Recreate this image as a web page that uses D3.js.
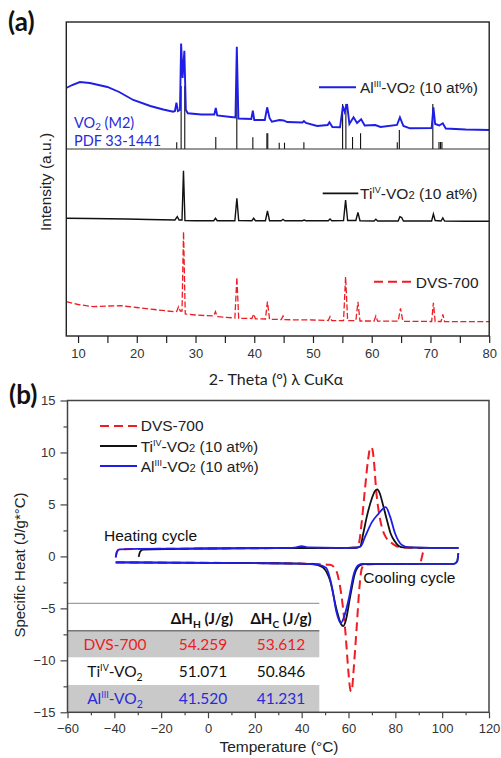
<!DOCTYPE html>
<html><head><meta charset="utf-8">
<script src="https://cdn.jsdelivr.net/npm/d3@7"></script>
<style>body{margin:0;background:#fff;} svg{display:block;}</style>
</head><body>
<svg id="c" width="501" height="758"></svg>
<script>
// ---------- Panel (a) XRD data : [2theta, intensity (a.u.)] ----------
const xrdTicks = [10, 20, 30, 40, 50, 60, 70, 80];
const xrdMinorTicks = [15, 25, 35, 45, 55, 65, 75];
const alXRD = [[8.0,248],[9.0,251],[10.3,254],[12.0,253],[15.0,249],[17.0,244],[19.4,236],[22.3,230],[24.5,226.5],[26.2,224.3],[26.5,225],[26.75,233.3],[27.0,225],[27.35,226],[27.55,292.5],[27.8,258],[28.1,285.3],[28.35,226],[28.7,222.7],[31.0,221.5],[33.2,221.5],[33.45,228],[33.7,220.5],[36.0,219],[36.8,218.5],[37.03,289.3],[37.3,217.5],[39.5,217],[39.76,225.3],[40.0,216],[41.8,216],[42.2,228.7],[42.6,218],[43.0,214.3],[44.3,216],[45.0,215.5],[45.6,214],[48.2,213.5],[48.45,215],[48.8,213],[50.7,210],[52.5,211],[52.8,213.7],[53.3,209],[54.6,208.7],[55.1,230],[55.4,224],[55.8,232],[56.2,212],[56.9,218.7],[57.5,213],[58.2,216.7],[58.8,210.5],[60.6,211],[61.5,209],[64.3,211],[64.8,218.7],[65.4,210],[66.5,207.7],[70.2,208],[70.5,228.7],[70.8,212],[71.5,210.5],[72.1,212.7],[72.6,207.5],[76.0,206.5],[80.0,206]];
const tiXRD = [[8,117.7],[12,117.5],[18.3,117],[22,116.5],[26.5,116],[26.9,119.3],[27.2,116],[27.7,116],[27.95,165.3],[28.2,115.5],[30,115.3],[33.1,115.3],[33.4,117.7],[33.7,115.3],[36.7,115.3],[37.04,137.7],[37.35,115.5],[39.6,115.3],[39.9,117.7],[40.2,115.3],[41.9,115.3],[42.25,125],[42.6,115.3],[44.6,115.3],[44.9,116.7],[45.2,115.3],[48.2,115.3],[48.5,116],[48.8,115.3],[52.6,115.3],[52.9,117],[53.2,115.3],[55.2,115.5],[55.55,136],[55.9,115.5],[57.3,115.5],[57.65,123.7],[58.0,115.3],[60.4,115],[60.7,116.7],[61.0,115],[64.5,115],[64.8,119.3],[65.1,118.5],[65.4,115],[70.2,115],[70.5,122],[70.8,115.5],[71.8,115],[72.1,118],[72.4,115],[76,114.8],[80,114.7]];
const dvsXRD = [[8,34.3],[10,31.5],[12.6,29.3],[15,30],[17.2,30.3],[20,28.5],[23,26.5],[26.3,24.3],[26.8,24.5],[27.1,29.3],[27.4,25],[27.7,25],[27.96,104.3],[28.25,22],[30,21],[33.1,20],[33.4,24.3],[33.7,19.3],[36.7,18],[37.04,58.7],[37.35,17.7],[39.6,17.5],[39.9,22],[40.2,17.2],[41.9,17],[42.25,34.3],[42.6,16.7],[44.6,16.5],[44.9,20],[45.2,16.3],[50,16],[52.6,15.5],[52.9,19.3],[53.2,15.3],[55.2,15.3],[55.55,59.3],[55.9,15.3],[57.3,15.3],[57.65,34.3],[58.0,15],[60.4,15],[60.7,20],[61.0,14.8],[64.5,14.8],[64.9,27.7],[65.3,14.7],[70.2,14.5],[70.5,33.3],[70.8,14.5],[71.8,14.5],[72.1,21.7],[72.4,14.4],[76,14.3],[80,14.3]];
// PDF 33-1441 reference sticks: [2theta, relative height]
const pdfBase = 187;
const pdfSticks = [[26.8,6.7],[27.55,63],[28.17,63],[33.45,12],[37.03,62],[39.76,11.7],[42.15,15.7],[42.3,15.7],[44.25,6.3],[45.15,6.3],[48.45,6.7],[55.04,45],[55.6,45],[56.73,12],[58.1,15.7],[64.35,6.7],[64.7,19],[70.4,45],[71.45,7],[71.7,7],[71.95,7]];

// ---------- Panel (b) DSC data : [T (°C), specific heat (J/g*°C)] ----------
const dscTicks = [-60, -40, -20, 0, 20, 40, 60, 80, 100, 120];
const dscMinorTicks = [-50, -30, -10, 10, 30, 50, 70, 90, 110];
const cpTicks = [-15, -10, -5, 0, 5, 10, 15];
const cpMinorTicks = [-12.5, -7.5, -2.5, 2.5, 7.5, 12.5];
const dvsHeat = [[-39.4,-0.1],[-38.9,0.45],[-37.8,0.68],[0,0.76],[30,0.8],[60,0.82],[63.5,0.85],[64.5,1.3],[65.5,3.0],[67,6.4],[68.3,9.2],[69.1,10.3],[69.7,10.5],[70.3,10.2],[71.0,8.8],[71.8,6.4],[73,4.2],[74.2,2.85],[75.8,1.9],[77.8,1.4],[80,1.05],[82,0.9],[88,0.82],[92,0.8]];
const dvsCool = [[-39.4,-0.58],[0,-0.62],[30,-0.66],[45,-0.72],[52,-0.8],[54.3,-1.15],[56.4,-2.9],[58.5,-6.8],[60,-11.2],[60.6,-12.6],[61.1,-13.0],[61.6,-12.6],[62.1,-11.2],[63.5,-6.8],[64.7,-2.9],[65.7,-1.15],[67,-0.78],[75,-0.72],[90.4,-0.72],[91.2,-0.2],[92,0.6]];
const tiHeat = [[-29.6,-0.05],[-29.0,0.45],[-27.8,0.65],[0,0.76],[30,0.8],[55,0.82],[63,0.83],[65,0.95],[66.3,2.2],[67.8,3.8],[70,5.6],[71.3,6.3],[72.3,6.45],[73.3,6.1],[74.8,4.9],[76.4,3.5],[78,2.2],[79.9,1.4],[81.5,1.0],[83.4,0.86],[95,0.82],[107,0.82]];
const tiCool = [[-39.4,-0.58],[0,-0.62],[30,-0.66],[44,-0.72],[47,-0.85],[49.3,-1.1],[52.1,-2.3],[55,-5.2],[56.8,-6.5],[57.8,-6.7],[58.8,-6.2],[60.7,-3.9],[62.8,-1.6],[65,-0.84],[67,-0.74],[90,-0.72],[105,-0.72],[106.4,-0.5],[106.9,0.3]];
const alHeat = [[-39.4,-0.1],[-38.9,0.45],[-37.8,0.68],[-30,0.72],[0,0.76],[30,0.8],[37,0.84],[40,0.98],[43,0.86],[55,0.82],[63,0.83],[65.2,0.95],[67.1,1.9],[70,3.3],[72.8,4.1],[75.9,4.75],[77.8,3.8],[79.9,2.2],[82.8,1.1],[86,0.86],[95,0.82],[107,0.82]];
const alCool = [[-39.4,-0.58],[-20,-0.6],[0,-0.62],[20,-0.65],[40,-0.7],[47,-0.8],[50.4,-1.1],[52.9,-2.9],[54.8,-5.3],[56.7,-6.4],[58.4,-5.6],[60,-4.2],[62.4,-1.6],[64.2,-0.85],[66,-0.72],[90,-0.72],[105,-0.72],[106.4,-0.5],[106.9,0.3]];
// enthalpy table
const tableSamples = ["DVS-700", "Ti", "Al"];
const dHH = [54.259, 51.071, 41.520];
const dHC = [53.612, 50.846, 41.231];

// ---------- styles ----------
const RED = "#ee1c24", BLUE = "#1e1ee6", BLACK = "#111";
const SANS = "'Liberation Sans', Arial, sans-serif";
const HUM = "Lato, 'Open Sans', sans-serif";
const svg = d3.select("#c");

function rich(g, x, y, parts, fs, opts = {}) {
  const t = g.append("text").attr("x", x).attr("y", y)
    .attr("font-family", opts.font || SANS).attr("font-size", fs)
    .attr("fill", opts.fill || BLACK).attr("font-weight", opts.weight || "normal")
    .attr("text-anchor", opts.anchor || "start");
  let shift = 0;
  parts.forEach(p => {
    const s = t.append("tspan").text(p.t);
    let target = 0, size = fs;
    if (p.sup) { target = -fs * 0.38; size = fs * 0.58; }
    else if (p.sub) { target = fs * (opts.subShift || 0.28); size = fs * 0.68; }
    else if (p.small) { target = 0; size = fs * 0.72; }
    s.attr("font-size", size).attr("dy", target - shift);
    shift = target;
  });
  return t;
}

// ================= Panel (a) =================
const xA = d3.scaleLinear().domain([8, 80]).range([66.3, 489.2]);
const yA = d3.scaleLinear().domain([0, 314]).range([336, 22]);
const gA = svg.append("g");

// sticks
gA.selectAll("line.stick").data(pdfSticks).enter().append("line")
  .attr("x1", d => xA(d[0])).attr("x2", d => xA(d[0]))
  .attr("y1", yA(pdfBase)).attr("y2", d => yA(pdfBase + d[1]))
  .attr("stroke", "#111").attr("stroke-width", 1.1);

const lineA = d3.line().x(d => xA(d[0])).y(d => yA(d[1]));
gA.append("path").attr("d", lineA(dvsXRD)).attr("fill", "none")
  .attr("stroke", RED).attr("stroke-width", 1.3).attr("stroke-dasharray", "6,2.5");
gA.append("path").attr("d", lineA(tiXRD)).attr("fill", "none")
  .attr("stroke", BLACK).attr("stroke-width", 1.4);
gA.append("path").attr("d", lineA(alXRD)).attr("fill", "none")
  .attr("stroke", BLUE).attr("stroke-width", 1.9);

// separator + frame
gA.append("line").attr("x1", xA(8)).attr("x2", xA(80)).attr("y1", yA(pdfBase)).attr("y2", yA(pdfBase))
  .attr("stroke", "#333").attr("stroke-width", 1.2);
gA.append("rect").attr("x", xA(8)).attr("y", yA(314)).attr("width", xA(80) - xA(8)).attr("height", yA(0) - yA(314))
  .attr("fill", "none").attr("stroke", "#222").attr("stroke-width", 1.4);

// x axis
const axA = gA.append("g").attr("transform", `translate(0,${yA(0)})`)
  .call(d3.axisBottom(xA).tickValues(xrdTicks.concat(xrdMinorTicks)).tickSize(7)
    .tickFormat(d => xrdTicks.includes(d) ? d : ""));
axA.select(".domain").remove();
axA.selectAll("line").attr("stroke", "#222").attr("stroke-width", 1.2);
axA.selectAll("text").attr("font-family", SANS).attr("font-size", 13).attr("fill", "#333").attr("dy", "0.95em");

gA.append("text").attr("x", 276).attr("y", 385).attr("text-anchor", "middle")
  .attr("font-family", HUM).attr("font-size", 16).attr("fill", "#222").text("2- Theta (\u00b0) \u03bb CuK\u03b1");
gA.append("text").attr("transform", "rotate(-90)").attr("x", -182).attr("y", 51)
  .attr("text-anchor", "middle").attr("font-family", SANS).attr("font-size", 15.5).attr("fill", "#222")
  .text("Intensity (a.u.)");
gA.append("text").attr("x", 8).attr("y", 31).attr("font-family", HUM).attr("font-weight", "bold")
  .attr("font-size", 26).attr("fill", "#111").text("(a)");

// PDF label
rich(gA, 74, 127.5, [{t: "VO"}, {t: "2", sub: true}, {t: " (M2)"}], 14.5, {font: HUM, fill: "#2a2ad8", subShift: 0.16});
rich(gA, 74, 145.5, [{t: "PDF 33-1441"}], 14.5, {font: HUM, fill: "#2a2ad8"});

// legends (a)
gA.append("line").attr("x1", 319).attr("x2", 356).attr("y1", 87.3).attr("y2", 87.3).attr("stroke", BLUE).attr("stroke-width", 2);
rich(gA, 360, 93, [{t: "Al"}, {t: "III", sup: true}, {t: "-VO"}, {t: "2", small: true}, {t: " (10 at%)"}], 15.5, {fill: "#222"});
gA.append("line").attr("x1", 322.7).attr("x2", 358.3).attr("y1", 193.3).attr("y2", 193.3).attr("stroke", BLACK).attr("stroke-width", 1.8);
rich(gA, 360, 199.3, [{t: "Ti"}, {t: "IV", sup: true}, {t: "-VO"}, {t: "2", small: true}, {t: " (10 at%)"}], 15.5, {fill: "#222"});
gA.append("line").attr("x1", 374).attr("x2", 412).attr("y1", 281.7).attr("y2", 281.7).attr("stroke", RED).attr("stroke-width", 2).attr("stroke-dasharray", "9,5");
rich(gA, 415.7, 287.7, [{t: "DVS-700"}], 15.5, {fill: "#222"});

// ================= Panel (b) =================
const xB = d3.scaleLinear().domain([-60, 120]).range([67.5, 489]);
const yB = d3.scaleLinear().domain([-15, 15]).range([712.3, 400.5]);
const gB = svg.append("g");

// table
const rowTop = [630.7, 657.3, 685], rowBot = [657.3, 685, yB(-15)];
const tableX1 = 319.3;
[0, 2].forEach(i => gB.append("rect").attr("x", xB(-60)).attr("y", rowTop[i]).attr("width", tableX1 - xB(-60))
  .attr("height", rowBot[i] - rowTop[i]).attr("fill", "#c9c9c9"));
gB.append("line").attr("x1", xB(-60)).attr("x2", tableX1).attr("y1", 603.3).attr("y2", 603.3).attr("stroke", "#888").attr("stroke-width", 1);
gB.append("line").attr("x1", xB(-60)).attr("x2", tableX1).attr("y1", 630.7).attr("y2", 630.7).attr("stroke", "#777").attr("stroke-width", 1.5);
rich(gB, 202, 624, [{t: "\u0394H"}, {t: "H", sub: true}, {t: " (J/g)"}], 15, {font: HUM, weight: "bold", anchor: "middle", fill: "#111"});
rich(gB, 281, 624, [{t: "\u0394H"}, {t: "C", sub: true}, {t: " (J/g)"}], 15, {font: HUM, weight: "bold", anchor: "middle", fill: "#111"});
const rowColors = [RED, "#111", "#2a2ad8"];
const rowBase = [650, 676.7, 704];
tableSamples.forEach((s, i) => {
  const parts = s === "DVS-700" ? [{t: "DVS-700"}] :
    [{t: s}, {t: s === "Ti" ? "IV" : "III", sup: true}, {t: "-VO"}, {t: "2", sub: true}];
  rich(gB, 115, rowBase[i], parts, 15.5, {font: HUM, anchor: "middle", fill: rowColors[i]});
  rich(gB, 203, rowBase[i], [{t: dHH[i].toFixed(3)}], 15.5, {font: HUM, anchor: "middle", fill: rowColors[i]});
  rich(gB, 281, rowBase[i], [{t: dHC[i].toFixed(3)}], 15.5, {font: HUM, anchor: "middle", fill: rowColors[i]});
});

// curves
const lineB = d3.line().x(d => xB(d[0])).y(d => yB(d[1])).curve(d3.curveMonotoneX);
[dvsHeat, dvsCool].forEach(a => gB.append("path").attr("d", lineB(a)).attr("fill", "none")
  .attr("stroke", RED).attr("stroke-width", 2).attr("stroke-dasharray", "9,5"));
[tiHeat, tiCool].forEach(a => gB.append("path").attr("d", lineB(a)).attr("fill", "none")
  .attr("stroke", BLACK).attr("stroke-width", 1.8));
[alHeat, alCool].forEach(a => gB.append("path").attr("d", lineB(a)).attr("fill", "none")
  .attr("stroke", BLUE).attr("stroke-width", 1.8));

// frame
gB.append("rect").attr("x", xB(-60)).attr("y", yB(15)).attr("width", xB(120) - xB(-60)).attr("height", yB(-15) - yB(15))
  .attr("fill", "none").attr("stroke", "#444").attr("stroke-width", 1.5);

// axes
function styleAxis(ax) {
  ax.select(".domain").remove();
  ax.selectAll("line").attr("stroke", "#444").attr("stroke-width", 1.2);
  ax.selectAll("text").attr("font-family", SANS).attr("font-size", 13).attr("fill", "#333");
}
const bx1 = gB.append("g").attr("transform", `translate(0,${yB(-15)})`).call(d3.axisBottom(xB).tickValues(dscTicks).tickSize(6).tickPadding(5));
styleAxis(bx1);
const bx2 = gB.append("g").attr("transform", `translate(0,${yB(-15)})`).call(d3.axisBottom(xB).tickValues(dscMinorTicks).tickSize(3).tickFormat(""));
styleAxis(bx2);
const by1 = gB.append("g").attr("transform", `translate(${xB(-60)},0)`).call(d3.axisLeft(yB).tickValues(cpTicks).tickSize(7).tickPadding(5));
styleAxis(by1);
const by2 = gB.append("g").attr("transform", `translate(${xB(-60)},0)`).call(d3.axisLeft(yB).tickValues(cpMinorTicks).tickSize(4).tickFormat(""));
styleAxis(by2);

gB.append("text").attr("x", 279).attr("y", 752).attr("text-anchor", "middle")
  .attr("font-family", SANS).attr("font-size", 15.5).attr("fill", "#222").text("Temperature (\u00b0C)");
gB.append("text").attr("transform", "rotate(-90)").attr("x", -565).attr("y", 25)
  .attr("text-anchor", "middle").attr("font-family", SANS).attr("font-size", 15).attr("fill", "#222")
  .text("Specific Heat (J/g*\u00b0C)");
gB.append("text").attr("x", 9).attr("y", 404).attr("font-family", HUM).attr("font-weight", "bold")
  .attr("font-size", 26).attr("fill", "#111").text("(b)");

// legend (b)
gB.append("line").attr("x1", 100).attr("x2", 137).attr("y1", 426).attr("y2", 426).attr("stroke", RED).attr("stroke-width", 2).attr("stroke-dasharray", "9,5");
rich(gB, 140.7, 431, [{t: "DVS-700"}], 15.5, {fill: "#222"});
gB.append("line").attr("x1", 100).attr("x2", 137).attr("y1", 446).attr("y2", 446).attr("stroke", BLACK).attr("stroke-width", 1.8);
rich(gB, 140.7, 451.5, [{t: "Ti"}, {t: "IV", sup: true}, {t: "-VO"}, {t: "2", small: true}, {t: " (10 at%)"}], 15.5, {fill: "#222"});
gB.append("line").attr("x1", 100).attr("x2", 137).attr("y1", 466).attr("y2", 466).attr("stroke", BLUE).attr("stroke-width", 2);
rich(gB, 140.7, 471.5, [{t: "Al"}, {t: "III", sup: true}, {t: "-VO"}, {t: "2", small: true}, {t: " (10 at%)"}], 15.5, {fill: "#222"});

gB.append("text").attr("x", 104).attr("y", 540.7).attr("font-family", SANS).attr("font-size", 15.5).attr("fill", "#111").text("Heating cycle");
gB.append("text").attr("x", 363.3).attr("y", 583.3).attr("font-family", SANS).attr("font-size", 15.5).attr("fill", "#111").text("Cooling cycle");
</script></body></html>
